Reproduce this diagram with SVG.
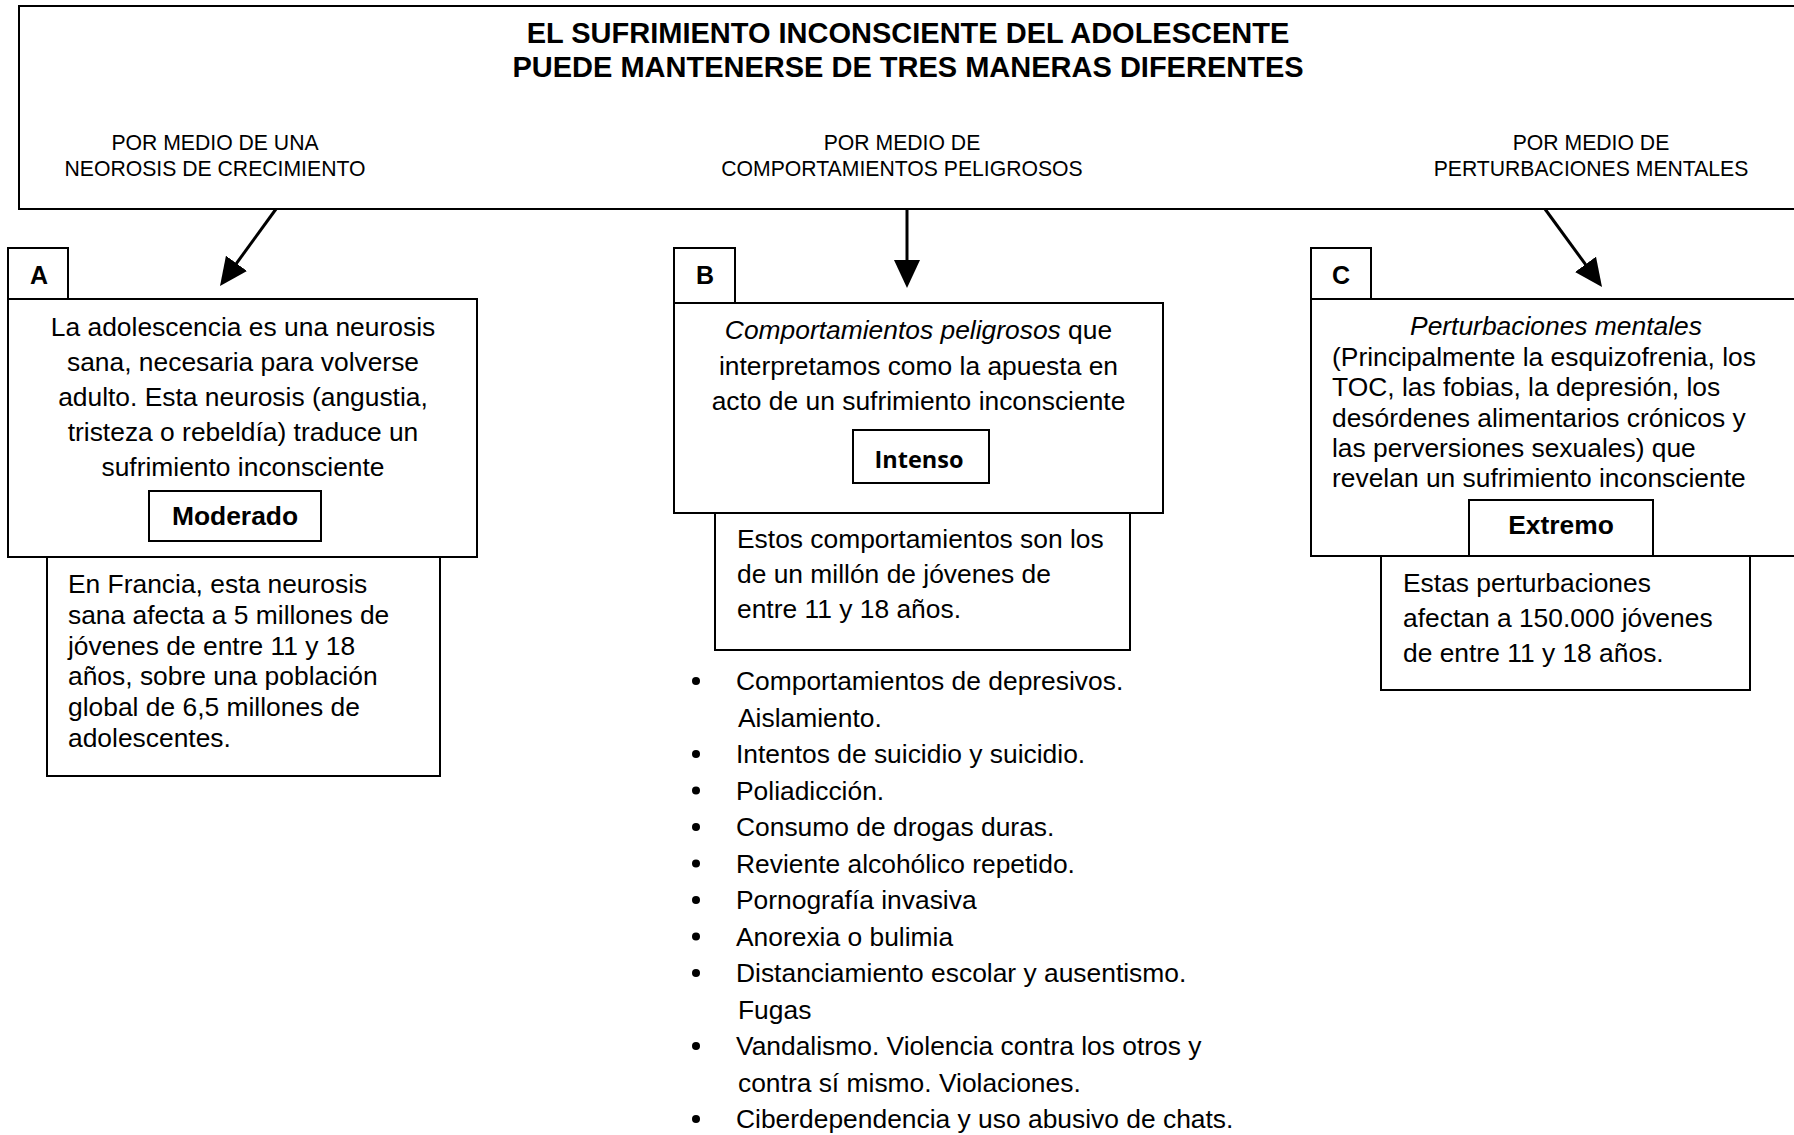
<svg xmlns="http://www.w3.org/2000/svg" width="1794" height="1135" viewBox="0 0 1794 1135">
<defs>
<style>
.box{fill:#fff;stroke:#000;stroke-width:2}
.t{font-family:"Liberation Sans",Arial,sans-serif;font-size:26.4px;fill:#000}
.c{text-anchor:middle}
.b{font-weight:bold}
.title{font-family:"Liberation Sans",Arial,sans-serif;font-size:29px;font-weight:bold;text-anchor:middle}
.sub{font-family:"Liberation Sans",Arial,sans-serif;font-size:21.2px;text-anchor:middle}
.lab{font-family:"Liberation Sans",Arial,sans-serif;font-size:25px;font-weight:bold;text-anchor:middle}
.conn{stroke:#000;stroke-width:3;fill:none;marker-end:url(#arr)}
</style>
<marker id="arr" markerUnits="userSpaceOnUse" markerWidth="28" markerHeight="26" refX="18" refY="13" orient="auto">
<path d="M0,0 L28,13 L0,26 Z" fill="#000"/>
</marker>
</defs>
<rect width="1794" height="1135" fill="#fff"/>

<g id="top">
<rect class="box" x="19" y="6" width="1790" height="203"/>
<text class="title" x="908" y="43">EL SUFRIMIENTO INCONSCIENTE DEL ADOLESCENTE</text>
<text class="title" x="908" y="77">PUEDE MANTENERSE DE TRES MANERAS DIFERENTES</text>
<text class="sub" x="215" y="150">POR MEDIO DE UNA</text>
<text class="sub" x="215" y="176">NEOROSIS DE CRECIMIENTO</text>
<text class="sub" x="902" y="150">POR MEDIO DE</text>
<text class="sub" x="902" y="176">COMPORTAMIENTOS PELIGROSOS</text>
<text class="sub" x="1591" y="150">POR MEDIO DE</text>
<text class="sub" x="1591" y="176">PERTURBACIONES MENTALES</text>
</g>

<g id="connectors">
<line class="conn" x1="276" y1="209" x2="225.9" y2="277.9"/>
<line class="conn" x1="907" y1="209" x2="907" y2="278"/>
<line class="conn" x1="1545" y1="209" x2="1596.1" y2="278.9"/>
</g>

<g id="nodeA">
<rect class="box" x="8" y="248" width="60" height="51"/>
<text class="lab" x="39" y="284">A</text>
<rect class="box" x="47" y="557" width="393" height="219"/>
<rect class="box" x="8" y="299" width="469" height="258"/>
<text class="t c" x="243" y="336">La adolescencia es una neurosis</text>
<text class="t c" x="243" y="371">sana, necesaria para volverse</text>
<text class="t c" x="243" y="406">adulto. Esta neurosis (angustia,</text>
<text class="t c" x="243" y="441">tristeza o rebeldía) traduce un</text>
<text class="t c" x="243" y="476">sufrimiento inconsciente</text>
<rect class="box" x="149" y="491" width="172" height="50"/>
<text class="t c b" x="235" y="525">Moderado</text>
<text class="t" x="68" y="593">En Francia, esta neurosis</text>
<text class="t" x="68" y="624">sana afecta a 5 millones de</text>
<text class="t" x="68" y="655">jóvenes de entre 11 y 18</text>
<text class="t" x="68" y="685">años, sobre una población</text>
<text class="t" x="68" y="716">global de 6,5 millones de</text>
<text class="t" x="68" y="747">adolescentes.</text>
</g>

<g id="nodeB">
<rect class="box" x="674" y="248" width="61" height="55"/>
<text class="lab" x="705" y="284">B</text>
<rect class="box" x="715" y="513" width="415" height="137"/>
<rect class="box" x="674" y="303" width="489" height="210"/>
<text class="t c" x="918.5" y="339"><tspan font-style="italic">Comportamientos peligrosos</tspan> que</text>
<text class="t c" x="918.5" y="375">interpretamos como la apuesta en</text>
<text class="t c" x="918.5" y="410">acto de un sufrimiento inconsciente</text>
<rect class="box" x="853" y="430" width="136" height="53"/>
<text x="919" y="468" text-anchor="middle" font-family="'Open Sans',Lato,sans-serif" font-size="23.5" font-weight="bold">Intenso</text>
<text class="t" x="737" y="548">Estos comportamientos son los</text>
<text class="t" x="737" y="583">de un millón de jóvenes de</text>
<text class="t" x="737" y="618">entre 11 y 18 años.</text>
</g>

<g id="listB">
<g fill="#000">
<circle cx="696" cy="681" r="4"/>
<circle cx="696" cy="754" r="4"/>
<circle cx="696" cy="790.5" r="4"/>
<circle cx="696" cy="827" r="4"/>
<circle cx="696" cy="863.5" r="4"/>
<circle cx="696" cy="900" r="4"/>
<circle cx="696" cy="936.5" r="4"/>
<circle cx="696" cy="973" r="4"/>
<circle cx="696" cy="1046" r="4"/>
<circle cx="696" cy="1119" r="4"/>
</g>
<text class="t" x="736" y="690">Comportamientos de depresivos.</text>
<text class="t" x="738" y="726.5">Aislamiento.</text>
<text class="t" x="736" y="763">Intentos de suicidio y suicidio.</text>
<text class="t" x="736" y="799.5">Poliadicción.</text>
<text class="t" x="736" y="836">Consumo de drogas duras.</text>
<text class="t" x="736" y="872.5">Reviente alcohólico repetido.</text>
<text class="t" x="736" y="909">Pornografía invasiva</text>
<text class="t" x="736" y="945.5">Anorexia o bulimia</text>
<text class="t" x="736" y="982">Distanciamiento escolar y ausentismo.</text>
<text class="t" x="738" y="1018.5">Fugas</text>
<text class="t" x="736" y="1055">Vandalismo. Violencia contra los otros y</text>
<text class="t" x="738" y="1091.5">contra sí mismo. Violaciones.</text>
<text class="t" x="736" y="1128">Ciberdependencia y uso abusivo de chats.</text>
</g>

<g id="nodeC">
<rect class="box" x="1311" y="248" width="60" height="51"/>
<text class="lab" x="1341" y="284">C</text>
<rect class="box" x="1381" y="556" width="369" height="134"/>
<rect class="box" x="1311" y="299" width="500" height="257"/>
<text class="t c" x="1556" y="335" font-style="italic">Perturbaciones mentales</text>
<text class="t" x="1332" y="366">(Principalmente la esquizofrenia, los</text>
<text class="t" x="1332" y="396">TOC, las fobias, la depresión, los</text>
<text class="t" x="1332" y="427">desórdenes alimentarios crónicos y</text>
<text class="t" x="1332" y="457">las perversiones sexuales) que</text>
<text class="t" x="1332" y="487">revelan un sufrimiento inconsciente</text>
<rect class="box" x="1469" y="500" width="184" height="56"/>
<text class="t c b" x="1561" y="534">Extremo</text>
<text class="t" x="1403" y="592">Estas perturbaciones</text>
<text class="t" x="1403" y="627">afectan a 150.000 jóvenes</text>
<text class="t" x="1403" y="662">de entre 11 y 18 años.</text>
</g>
</svg>
